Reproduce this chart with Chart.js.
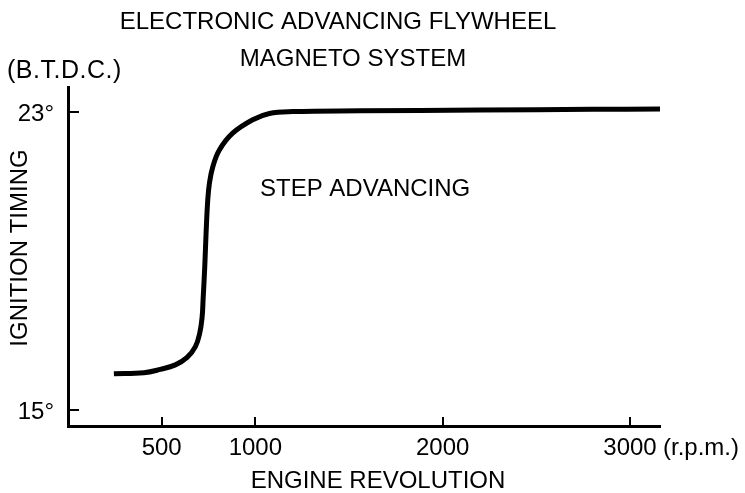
<!DOCTYPE html>
<html>
<head>
<meta charset="utf-8">
<title>Ignition timing</title>
<script src="https://cdn.jsdelivr.net/npm/chart.js@4/dist/chart.umd.min.js"></script>
<style>
  html, body { margin: 0; padding: 0; background: #fff; }
  canvas { display: block; }
</style>
</head>
<body>
<canvas id="chart" width="745" height="493"></canvas>
<script>
// engine speed (r.p.m.) and ignition advance (deg B.T.D.C.)
const rpm = [245, 405, 493, 573, 636, 680, 703, 716, 721, 730, 737, 746, 755, 773, 808, 879, 986, 1075, 1200, 1560, 2200, 2800, 3160];
const timing = [15.97, 16.0, 16.09, 16.21, 16.41, 16.7, 17.06, 17.5, 17.95, 18.85, 19.74, 20.64, 21.09, 21.53, 21.98, 22.43, 22.79, 22.96, 23.01, 23.03, 23.05, 23.07, 23.08];

const xTicks = [500, 1000, 2000, 3000];
const yTicks = [15, 23];

const titleLines = ['ELECTRONIC ADVANCING FLYWHEEL', 'MAGNETO SYSTEM'];
const FAMILY = '"Liberation Sans", Arial, sans-serif';
const FONT = '24px ' + FAMILY;

const axisDecor = {
    id: 'axisDecor',
    afterDraw(chart) {
        const ctx = chart.ctx;
        const x = chart.scales.x;
        const y = chart.scales.y;
        const area = chart.chartArea;

        ctx.save();
        ctx.strokeStyle = '#000';
        ctx.lineWidth = 2;

        // short inward ticks
        xTicks.forEach(v => {
            const px = Math.round(x.getPixelForValue(v));
            ctx.beginPath();
            ctx.moveTo(px, area.bottom);
            ctx.lineTo(px, area.bottom - 9);
            ctx.stroke();
        });
        yTicks.forEach(v => {
            const py = Math.round(y.getPixelForValue(v));
            ctx.beginPath();
            ctx.moveTo(area.left, py);
            ctx.lineTo(area.left + 11, py);
            ctx.stroke();
        });

        ctx.fillStyle = '#000';
        ctx.font = FONT;
        ctx.textBaseline = 'alphabetic';

        ctx.textAlign = 'center';
        xTicks.forEach(v => {
            ctx.fillText(String(v), x.getPixelForValue(v), area.bottom + 29);
        });
        ctx.textAlign = 'left';
        ctx.fillText('(r.p.m.)', area.right + 3, area.bottom + 29);

        ctx.textAlign = 'right';
        yTicks.forEach(v => {
            ctx.fillText(v + '°', 54, y.getPixelForValue(v) + 9);
        });

        // titles and annotations
        ctx.textAlign = 'center';
        ctx.fillText(titleLines[0], 338, 29);
        ctx.fillText(titleLines[1], 353, 66);
        ctx.textAlign = 'left';
        ctx.fillText('STEP ADVANCING', 260, 196);

        ctx.font = '25px ' + FAMILY;
        ctx.letterSpacing = '0.5px';
        ctx.fillText('(B.T.D.C.)', 7, 78);
        ctx.letterSpacing = '0px';
        ctx.font = FONT;

        ctx.textAlign = 'center';
        ctx.fillText('ENGINE REVOLUTION', 378, 488);

        ctx.translate(27, 248);
        ctx.rotate(-Math.PI / 2);
        ctx.fillText('IGNITION TIMING', 0, 0);
        ctx.restore();
    }
};

new Chart(document.getElementById('chart'), {
    type: 'line',
    data: {
        datasets: [{
            data: rpm.map((r, i) => ({ x: r, y: timing[i] })),
            borderColor: '#000',
            borderWidth: 5,
            pointRadius: 0,
            fill: false,
            tension: 0.4
        }]
    },
    options: {
        responsive: false,
        animation: false,
        layout: { padding: { left: 68, right: 85, top: 87, bottom: 67 } },
        plugins: {
            legend: { display: false },
            tooltip: { enabled: false }
        },
        scales: {
            x: {
                type: 'linear',
                min: 0,
                max: 3160,
                grid: { display: false, drawTicks: false },
                border: { display: true, color: '#000', width: 3 },
                ticks: { display: false }
            },
            y: {
                type: 'linear',
                min: 14.57,
                max: 23.67,
                grid: { display: false, drawTicks: false },
                border: { display: true, color: '#000', width: 3 },
                ticks: { display: false }
            }
        }
    },
    plugins: [axisDecor]
});
</script>
</body>
</html>
